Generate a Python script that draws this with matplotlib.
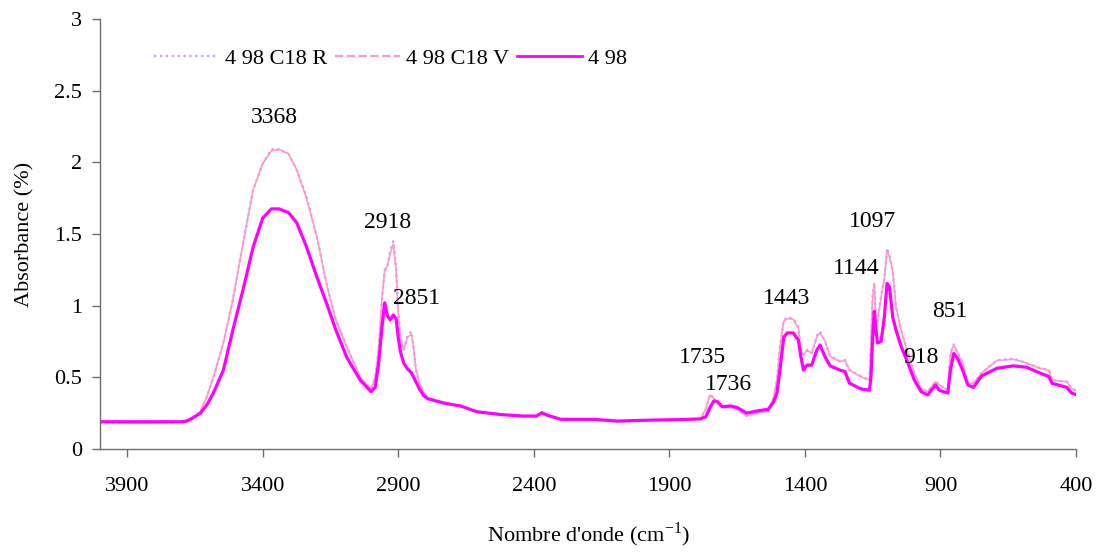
import matplotlib
matplotlib.use("Agg")
import matplotlib.pyplot as plt
from matplotlib.lines import Line2D

plt.rcParams["font.family"] = ["Liberation Serif", "DejaVu Serif"]

# wavenumbers (cm-1) shared by the three spectra
wavenumber = [
    4000, 3850, 3700, 3680, 3655, 3630, 3605, 3582, 3545, 3510, 3470, 3435, 3400,
    3368, 3340, 3305, 3275, 3240, 3200, 3165, 3130, 3090, 3040, 3000, 2985, 2972,
    2960, 2950, 2940, 2930, 2918, 2908, 2900, 2892, 2880, 2866, 2851, 2843, 2835,
    2822, 2805, 2790, 2730, 2670, 2610, 2520, 2440, 2390, 2370, 2352, 2300, 2180,
    2090, 1960, 1860, 1785, 1765, 1750, 1736, 1722, 1705, 1675, 1650, 1615, 1578,
    1535, 1515, 1503, 1492, 1478, 1465, 1443, 1424, 1415, 1405, 1393, 1375, 1356,
    1344, 1325, 1307, 1270, 1252, 1236, 1195, 1162, 1156, 1150, 1144, 1138, 1132,
    1119, 1107, 1097, 1088, 1076, 1064, 1045, 1020, 996, 971, 947, 918, 904, 873,
    863, 851, 836, 818, 799, 778, 748, 692, 631, 582, 533, 500, 488, 434, 416, 400,
]

abs_498 = [
    0.19, 0.19, 0.19, 0.195, 0.22, 0.25, 0.31, 0.39, 0.55, 0.83, 1.13, 1.41, 1.61,
    1.675, 1.675, 1.65, 1.58, 1.42, 1.20, 1.02, 0.83, 0.64, 0.48, 0.40, 0.43, 0.60,
    0.85, 1.02, 0.93, 0.90, 0.935, 0.91, 0.78, 0.68, 0.60, 0.56, 0.53, 0.50, 0.47,
    0.42, 0.37, 0.35, 0.32, 0.30, 0.26, 0.24, 0.23, 0.23, 0.253, 0.237, 0.207, 0.207,
    0.195, 0.202, 0.205, 0.21, 0.225, 0.29, 0.335, 0.33, 0.295, 0.30, 0.29, 0.25, 0.265,
    0.277, 0.33, 0.39, 0.55, 0.78, 0.81, 0.81, 0.76, 0.645, 0.55, 0.585, 0.585, 0.69,
    0.725, 0.64, 0.58, 0.55, 0.54, 0.46, 0.42, 0.41, 0.505, 0.78, 0.96, 0.83, 0.74,
    0.75, 0.92, 1.155, 1.13, 0.92, 0.83, 0.715, 0.60, 0.48, 0.40, 0.377, 0.447, 0.41, 0.39,
    0.55, 0.667, 0.63, 0.55, 0.447, 0.43, 0.51, 0.563, 0.58, 0.57, 0.53, 0.505, 0.458, 0.43, 0.39, 0.38,
]

abs_498_c18_v = [
    0.185, 0.18, 0.185, 0.19, 0.22, 0.26, 0.37, 0.50, 0.74, 1.04, 1.46, 1.81, 1.99,
    2.08, 2.09, 2.06, 1.95, 1.76, 1.48, 1.155, 0.90, 0.714, 0.50, 0.42, 0.50, 0.70,
    1.05, 1.24, 1.28, 1.36, 1.43, 1.25, 0.95, 0.78, 0.69, 0.78, 0.80, 0.70, 0.56,
    0.46, 0.39, 0.355, 0.32, 0.30, 0.26, 0.24, 0.228, 0.228, 0.25, 0.235, 0.205, 0.205,
    0.19, 0.20, 0.205, 0.21, 0.28, 0.375, 0.355, 0.32, 0.29, 0.29, 0.275, 0.23, 0.25,
    0.265, 0.36, 0.48, 0.714, 0.89, 0.91, 0.905, 0.84, 0.69, 0.655, 0.69, 0.667, 0.78,
    0.81, 0.75, 0.645, 0.61, 0.62, 0.55, 0.505, 0.48, 0.75, 1.06, 1.155, 0.90, 0.89,
    1.06, 1.18, 1.39, 1.34, 1.24, 0.99, 0.83, 0.667, 0.53, 0.42, 0.40, 0.47, 0.447, 0.41,
    0.667, 0.725, 0.667, 0.60, 0.458, 0.458, 0.53, 0.617, 0.626, 0.60, 0.563, 0.55, 0.48, 0.47, 0.42, 0.41,
]

abs_498_c18_r = [
    0.185, 0.185, 0.185, 0.19, 0.22, 0.26, 0.37, 0.50, 0.74, 1.04, 1.46, 1.81, 1.99,
    2.09, 2.09, 2.06, 1.95, 1.77, 1.48, 1.16, 0.90, 0.714, 0.50, 0.42, 0.50, 0.70,
    1.05, 1.25, 1.28, 1.38, 1.45, 1.27, 0.96, 0.78, 0.69, 0.79, 0.82, 0.70, 0.56,
    0.46, 0.39, 0.355, 0.32, 0.30, 0.26, 0.24, 0.228, 0.228, 0.25, 0.235, 0.205, 0.205,
    0.19, 0.20, 0.205, 0.21, 0.28, 0.38, 0.355, 0.32, 0.29, 0.29, 0.275, 0.23, 0.25,
    0.265, 0.36, 0.48, 0.72, 0.90, 0.92, 0.91, 0.85, 0.70, 0.66, 0.69, 0.67, 0.79,
    0.82, 0.75, 0.65, 0.61, 0.62, 0.55, 0.51, 0.48, 0.76, 1.08, 1.16, 0.91, 0.89,
    1.07, 1.19, 1.40, 1.35, 1.24, 0.99, 0.83, 0.67, 0.53, 0.42, 0.40, 0.47, 0.45, 0.41,
    0.67, 0.73, 0.67, 0.60, 0.46, 0.46, 0.53, 0.62, 0.63, 0.60, 0.565, 0.55, 0.48, 0.47, 0.42, 0.41,
]

series_names = ["4 98 C18 R", "4 98 C18 V", "4 98"]

# peak labels and where their text sits (wavenumber, absorbance)
peak_labels = [3368, 2918, 2851, 1735, 1736, 1443, 1144, 1097, 918, 851]
peak_text_pos = [
    (3358, 2.31), (2941, 1.58), (2834, 1.05), (1779, 0.64), (1683, 0.45),
    (1466, 1.05), (1211, 1.26), (1152, 1.59), (971, 0.64), (864, 0.96),
]

x_ticks = [3900, 3400, 2900, 2400, 1900, 1400, 900, 400]
y_ticks = [0, 0.5, 1, 1.5, 2, 2.5, 3]
y_tick_labels = ["0", "0.5", "1", "1.5", "2", "2.5", "3"]

col_r = "#CC99FF"
col_v = "#FF99CC"
col_m = "#FF00FF"

fig = plt.figure(figsize=(10.98, 5.52), dpi=100)
ax = fig.add_axes([100 / 1098, 1 - 449 / 552, 976 / 1098, 430 / 552])

ax.plot(wavenumber, abs_498_c18_r, color=col_r, lw=1.6, ls=":")
ax.plot(wavenumber, abs_498_c18_v, color=col_v, lw=1.2)
ax.plot(wavenumber, abs_498, color=col_m, lw=2.3)

for lab, (tx, ty) in zip(peak_labels, peak_text_pos):
    ax.text(tx, ty, str(lab), fontsize=17, ha="center", va="center")

ax.set_xlim(4000, 400)
ax.set_ylim(0, 3)
ax.set_xticks(x_ticks)
ax.set_yticks(y_ticks)
ax.set_yticklabels(y_tick_labels)

for side in ["top", "right"]:
    ax.spines[side].set_visible(False)
for side in ["left", "bottom"]:
    ax.spines[side].set_color("#6e6e6e")
    ax.spines[side].set_linewidth(1.0)

ax.tick_params(axis="both", direction="out", length=6, width=1,
               color="#6e6e6e", labelsize=16)
ax.tick_params(axis="x", pad=14)
ax.tick_params(axis="y", pad=7)

ax.set_ylabel("Absorbance (%)", fontsize=16, labelpad=14)
ax.set_xlabel("Nombre d'onde (cm$^{\\mathregular{-1}}$)", fontsize=16, labelpad=18)

handles = [
    Line2D([], [], color=col_r, lw=1.6, ls=":"),
    Line2D([], [], color=col_v, lw=1.6, ls="--"),
    Line2D([], [], color=col_m, lw=2.0),
]
fig.legend(handles, series_names, loc="center left", ncol=3, frameon=False,
           bbox_to_anchor=(154 / 1098, 1 - 59 / 552), borderaxespad=0,
           borderpad=0, fontsize=16, handlelength=2.9, handletextpad=0.3,
           columnspacing=0.35)

fig.savefig("out.png", dpi=100)
